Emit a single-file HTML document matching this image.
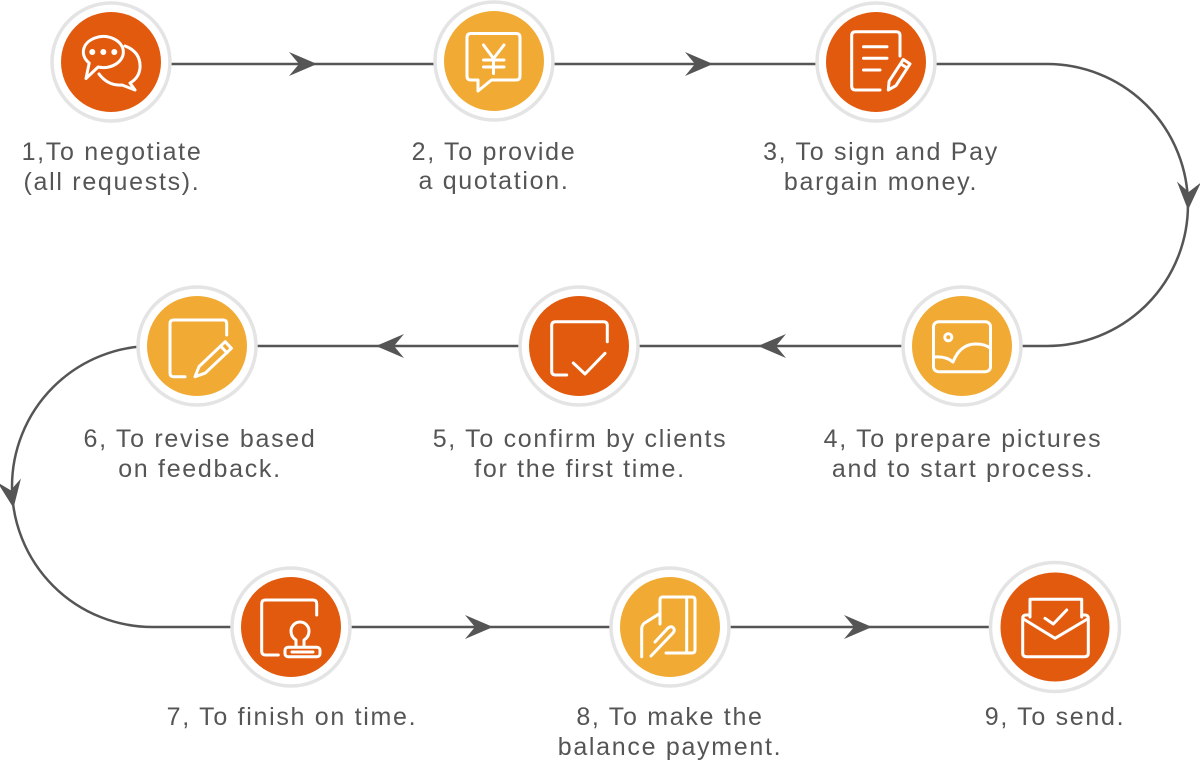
<!DOCTYPE html>
<html>
<head>
<meta charset="utf-8">
<style>
html,body{margin:0;padding:0;background:#fff;}
svg{display:block;}
text{font-family:"Liberation Sans",sans-serif;font-size:25px;fill:#555;letter-spacing:1.7px;}
</style>
</head>
<body>
<svg width="1200" height="765" viewBox="0 0 1200 765" xmlns="http://www.w3.org/2000/svg">
<defs>
  <path id="ah" d="M0 0 L-28 -12 L-18 0 L-28 12 Z" fill="#555"/>
</defs>

<!-- connectors -->
<g fill="none" stroke="#555" stroke-width="2.5">
  <path d="M111 64 L1047 64 A141 141 0 0 1 1047 346 L197 346"/>
  <path d="M152.5 346 A140.5 140.5 0 0 0 152.5 627 L1055 627"/>
</g>

<!-- arrowheads -->
<use href="#ah" transform="translate(317,64)"/>
<use href="#ah" transform="translate(713,64)"/>
<use href="#ah" transform="translate(1188,210) rotate(92)"/>
<use href="#ah" transform="translate(758,346) rotate(180)"/>
<use href="#ah" transform="translate(376,346) rotate(180)"/>
<use href="#ah" transform="translate(13.5,508) rotate(81)"/>
<use href="#ah" transform="translate(493,627)"/>
<use href="#ah" transform="translate(872,627)"/>

<!-- circles -->
<g stroke="#e4e4e4" stroke-width="3.5" fill="#fff">
  <circle cx="111" cy="62" r="59"/>
  <circle cx="494" cy="61" r="59"/>
  <circle cx="876" cy="62" r="59"/>
  <circle cx="962" cy="346" r="59"/>
  <circle cx="579" cy="346" r="59"/>
  <circle cx="197" cy="346" r="59"/>
  <circle cx="291" cy="627" r="59"/>
  <circle cx="670" cy="627" r="59"/>
  <circle cx="1055" cy="627" r="64.5"/>
</g>
<g>
  <circle cx="111" cy="62" r="50" fill="#E25A0E"/>
  <circle cx="494" cy="61" r="50" fill="#F1AB35"/>
  <circle cx="876" cy="62" r="50" fill="#E25A0E"/>
  <circle cx="962" cy="346" r="50" fill="#F1AB35"/>
  <circle cx="579" cy="346" r="50" fill="#E25A0E"/>
  <circle cx="197" cy="346" r="50" fill="#F1AB35"/>
  <circle cx="291" cy="627" r="50" fill="#E25A0E"/>
  <circle cx="670" cy="627" r="50" fill="#F1AB35"/>
  <circle cx="1055" cy="627" r="54.5" fill="#E25A0E"/>
</g>

<!-- icons -->
<g fill="none" stroke="#fff" stroke-width="3" stroke-linecap="round" stroke-linejoin="round">
  <!-- 1 chat -->
  <path d="M98.1 67 A20 15.5 0 1 0 89.2 63 L86 78.5 Z"/>
  <path d="M125 46 Q141 52 140 68 Q139 78 130 83 L135 90 L122 85 Q108 86 99 74"/>
  <!-- 2 quotation -->
  <path d="M491.5 80 L516 80 Q520 80 520 76 L520 37.5 Q520 33.5 516 33.5 L471 33.5 Q467 33.5 467 37.5 L467 76 Q467 80 471 80 L478 80 L478 91 Z"/>
  <path d="M483.5 45 L493.5 58.5 L504 45 M493.5 58.5 L493.5 73.5 M483.5 60 L504 60 M483.5 67 L504 67"/>
  <!-- 3 document + pencil -->
  <path d="M880 90 L855.5 90 Q851.7 90 851.7 86 L851.7 35.5 Q851.7 31.7 855.5 31.7 L896 31.7 Q900 31.7 900 35.5 L900 56"/>
  <path d="M863.5 46.7 L887 46.7 M863.5 58.3 L887 58.3 M863.5 70 L880 70"/>
  <path d="M903.3 59.5 L910 63.9 L895.9 85.7 L888.3 90 L889.1 81.3 Z M900.6 63.7 L907.3 68.1"/>
  <!-- 4 picture -->
  <rect x="933.5" y="321.7" width="57" height="50" rx="5"/>
  <circle cx="948.3" cy="337.3" r="3.5"/>
  <path d="M934.5 357 Q946 356 953 362 Q960 344 976 344 Q985 344 990 348"/>
  <!-- 5 confirm -->
  <path d="M566.7 375 L555.5 375 Q551.7 375 551.7 371 L551.7 325.5 Q551.7 321.7 555.5 321.7 L603.5 321.7 Q607.3 321.7 607.3 325.5 L607.3 341.7"/>
  <path d="M573.3 363 L585 374 L605 353.3"/>
  <!-- 6 revise -->
  <path d="M185 376.7 L173.7 376.7 Q170 376.7 170 373 L170 323.7 Q170 320 173.7 320 L223 320 Q226.7 320 226.7 323.7 L226.7 335"/>
  <path d="M225.2 341.7 L231.4 348.3 L205.3 373.1 L195 376.7 L199.1 366.5 Z M220.8 346.3 L227 352.9"/>
  <!-- 7 stamp -->
  <path d="M278.3 655 L265.4 655 Q261.7 655 261.7 651.3 L261.7 603.7 Q261.7 600 265.4 600 L313 600 Q316.7 600 316.7 603.7 L316.7 615"/>
  <path d="M296 647 L296 640 Q291 637 291 631 A9 9 0 1 1 309 631 Q309 637 304 640 L304 647"/>
  <rect x="285" y="647.3" width="35" height="9.4" rx="3"/>
  <path d="M292 652 L313 652"/>
  <!-- 8 card + hand -->
  <path d="M660 624 L660 600 Q660 597 663 597 L692 597 Q695 597 695 600 L695 650 Q695 653 692 653 L666 653"/>
  <path d="M686.7 598 L686.7 652"/>
  <path d="M641.7 656.7 L641.7 628.3 Q642 624 646.7 621.7 L660 613.3"/>
  <path d="M655 642 L668 628 Q672 625 674 629 Q675 631 672 634 L651 656"/>
  <!-- 9 send -->
  <path d="M1030 615 L1026 615 Q1022.7 615 1022.7 618.5 L1022.7 653 Q1022.7 656.7 1026.5 656.7 L1084.5 656.7 Q1088.3 656.7 1088.3 653 L1088.3 618.5 Q1088.3 615 1085 615 L1081.7 615"/>
  <path d="M1030 617 L1030 599.3 L1081.7 599.3 L1081.7 617"/>
  <path d="M1023.5 619 L1055 638.3 L1087.5 619"/>
  <path d="M1045 618.3 L1053.3 624 L1066.7 610"/>
</g>
<g fill="#fff">
  <circle cx="92.3" cy="52" r="3"/>
  <circle cx="103.3" cy="52" r="3"/>
  <circle cx="114.3" cy="52" r="3"/>
</g>

<!-- labels -->
<g text-anchor="middle">
  <text x="112" y="160">1,To negotiate</text>
  <text x="112" y="190">(all requests).</text>
  <text x="494" y="160">2, To provide</text>
  <text x="494" y="189">a quotation.</text>
  <text x="881" y="160">3, To sign and Pay</text>
  <text x="881" y="190">bargain money.</text>
  <text x="963" y="447">4, To prepare pictures</text>
  <text x="963" y="477">and to start process.</text>
  <text x="580" y="447">5, To confirm by clients</text>
  <text x="580" y="477">for the first time.</text>
  <text x="200" y="447">6, To revise based</text>
  <text x="200" y="477">on feedback.</text>
  <text x="292" y="725">7, To finish on time.</text>
  <text x="670" y="725">8, To make the</text>
  <text x="670" y="755">balance payment.</text>
  <text x="1055" y="725">9, To send.</text>
</g>
</svg>
</body>
</html>
